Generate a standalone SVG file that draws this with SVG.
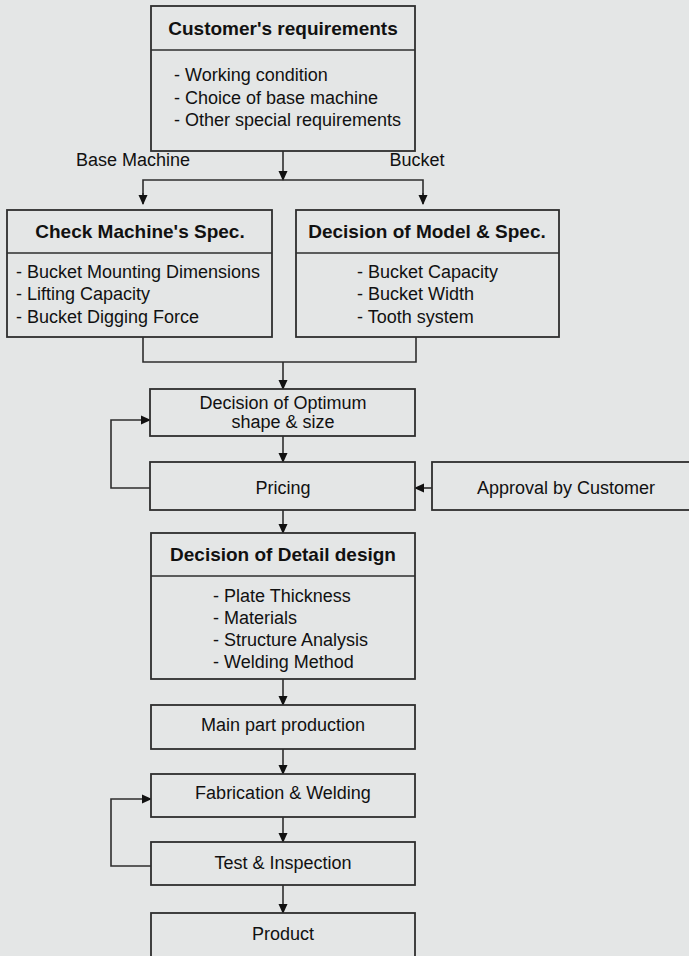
<svg xmlns="http://www.w3.org/2000/svg" width="689" height="956" viewBox="0 0 689 956">
<style>
.box{fill:#e4e6e6;stroke:#2e2e2e;stroke-width:1.8}
.ln{fill:none;stroke:#2e2e2e;stroke-width:1.6}
text{font-family:"Liberation Sans",Arial,sans-serif;fill:#111;font-size:18px}
.t{font-weight:bold;font-size:19px;text-anchor:middle}
.c{text-anchor:middle}
</style>
<defs>
<marker id="ah" markerWidth="10" markerHeight="10" refX="9" refY="5" orient="auto" markerUnits="userSpaceOnUse">
<path d="M0,0.5 L10,5 L0,9.5 Z" fill="#111"/>
</marker>
</defs>
<rect width="689" height="956" fill="#e4e6e6"/>
<g id="connectors">
<line class="ln" x1="283" y1="151" x2="283" y2="180" marker-end="url(#ah)"/>
<polyline class="ln" points="143,203 143,180 423,180 423,203"/>
<line class="ln" x1="143" y1="193" x2="143" y2="204" marker-end="url(#ah)"/>
<line class="ln" x1="423" y1="193" x2="423" y2="204" marker-end="url(#ah)"/>
<polyline class="ln" points="143,337 143,362 416,362 416,337"/>
<line class="ln" x1="283" y1="362" x2="283" y2="389" marker-end="url(#ah)"/>
<line class="ln" x1="283" y1="436" x2="283" y2="462" marker-end="url(#ah)"/>
<polyline class="ln" points="150,488 111,488 111,420 150,420" marker-end="url(#ah)"/>
<line class="ln" x1="432" y1="488" x2="415" y2="488" marker-end="url(#ah)"/>
<line class="ln" x1="283" y1="510" x2="283" y2="533" marker-end="url(#ah)"/>
<line class="ln" x1="283" y1="679" x2="283" y2="705" marker-end="url(#ah)"/>
<line class="ln" x1="283" y1="749" x2="283" y2="774" marker-end="url(#ah)"/>
<line class="ln" x1="283" y1="817" x2="283" y2="842" marker-end="url(#ah)"/>
<polyline class="ln" points="151,866 111,866 111,799 151,799" marker-end="url(#ah)"/>
<line class="ln" x1="283" y1="885" x2="283" y2="913" marker-end="url(#ah)"/>
<text x="133" y="166" class="c">Base Machine</text>
<text x="417" y="166" class="c">Bucket</text>
</g>
<g id="customer">
<rect class="box" x="151" y="6" width="264" height="145"/>
<line class="ln" x1="151" y1="50" x2="415" y2="50"/>
<text x="283" y="35" class="t">Customer's requirements</text>
<text x="174" y="81">- Working condition</text>
<text x="174" y="104">- Choice of base machine</text>
<text x="174" y="126">- Other special requirements</text>
</g>
<g id="check">
<rect class="box" x="7" y="210" width="265" height="127"/>
<line class="ln" x1="7" y1="253" x2="272" y2="253"/>
<text x="140" y="238" class="t">Check Machine's Spec.</text>
<text x="16" y="278">- Bucket Mounting Dimensions</text>
<text x="16" y="300">- Lifting Capacity</text>
<text x="16" y="323">- Bucket Digging Force</text>
</g>
<g id="model">
<rect class="box" x="296" y="210" width="263" height="127"/>
<line class="ln" x1="296" y1="253" x2="559" y2="253"/>
<text x="427" y="238" class="t">Decision of Model &amp; Spec.</text>
<text x="357" y="278">- Bucket Capacity</text>
<text x="357" y="300">- Bucket Width</text>
<text x="357" y="323">- Tooth system</text>
</g>
<g id="optimum">
<rect class="box" x="150" y="389" width="265" height="47"/>
<text x="283" y="409" class="c">Decision of Optimum</text>
<text x="283" y="428" class="c">shape &amp; size</text>
</g>
<g id="pricing">
<rect class="box" x="150" y="462" width="265" height="48"/>
<text x="283" y="494" class="c">Pricing</text>
</g>
<g id="approval">
<rect class="box" x="432" y="462" width="262" height="48"/>
<text x="566" y="494" class="c">Approval by Customer</text>
</g>
<g id="detail">
<rect class="box" x="151" y="533" width="264" height="146"/>
<line class="ln" x1="151" y1="576" x2="415" y2="576"/>
<text x="283" y="561" class="t">Decision of Detail design</text>
<text x="213" y="602">- Plate Thickness</text>
<text x="213" y="624">- Materials</text>
<text x="213" y="646">- Structure Analysis</text>
<text x="213" y="668">- Welding Method</text>
</g>
<g id="mainpart">
<rect class="box" x="151" y="705" width="264" height="44"/>
<text x="283" y="731" class="c">Main part production</text>
</g>
<g id="fabrication">
<rect class="box" x="151" y="774" width="264" height="43"/>
<text x="283" y="799" class="c">Fabrication &amp; Welding</text>
</g>
<g id="test">
<rect class="box" x="151" y="842" width="264" height="43"/>
<text x="283" y="869" class="c">Test &amp; Inspection</text>
</g>
<g id="product">
<rect class="box" x="151" y="913" width="264" height="50"/>
<text x="283" y="940" class="c">Product</text>
</g>
</svg>
